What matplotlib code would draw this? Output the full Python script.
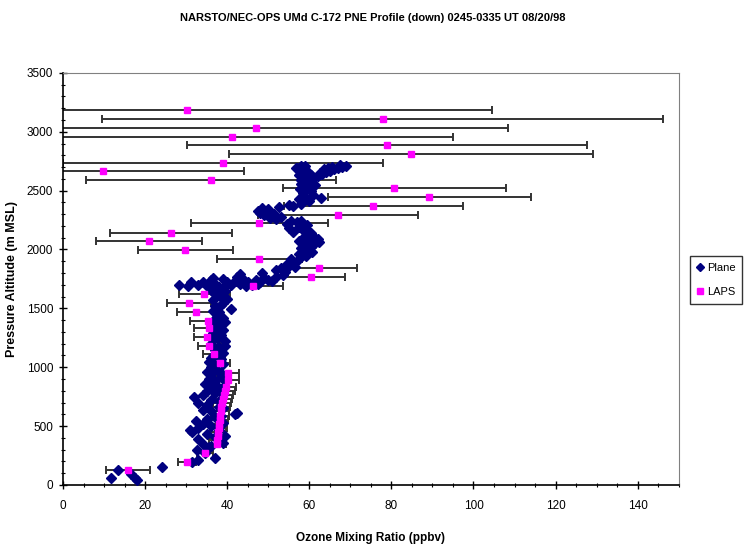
import matplotlib
matplotlib.use("Agg")
import matplotlib.pyplot as plt
from matplotlib import font_manager
from matplotlib.ticker import MultipleLocator

# LAPS profile: altitude (m MSL), ozone (ppbv), error half-width (ppbv)
laps_alt = [3186, 3110, 3036, 2959, 2889, 2812, 2738, 2668, 2591, 2520,
            2444, 2370, 2294, 2223, 2144, 2073, 1997, 1920, 1846, 1770,
            1691, 1623, 1549, 1473, 1396, 1331, 1254, 1181, 1113, 1034,
            954, 892, 835, 800, 765, 730, 695, 660, 625, 590,
            555, 520, 485, 450, 415, 380, 345, 274, 198, 130]
laps_o3 = [30.3, 77.9, 47.0, 41.2, 78.9, 84.8, 39.0, 9.8, 36.0, 80.7,
           89.2, 75.6, 67.0, 47.8, 26.3, 21.0, 29.8, 47.8, 62.3, 60.4,
           46.3, 34.4, 30.7, 32.4, 35.4, 35.6, 35.2, 35.6, 36.8, 38.2,
           40.2, 40.3, 39.7, 39.5, 39.2, 39.0, 38.8, 38.6, 38.4, 38.3,
           38.2, 38.0, 37.9, 37.8, 37.7, 37.6, 37.6, 34.6, 30.1, 15.8]
laps_err = [74.3, 68.3, 61.3, 53.9, 48.7, 44.3, 38.9, 34.3, 30.5, 27.2,
            24.7, 21.8, 19.5, 16.7, 14.8, 12.9, 11.5, 10.4, 9.2, 8.4,
            7.4, 6.2, 5.3, 4.7, 4.4, 3.8, 3.4, 2.8, 2.7, 2.6,
            2.7, 2.5, 2.4, 2.3, 2.3, 2.2, 2.2, 2.2, 2.1, 2.1,
            2.1, 2.0, 2.0, 2.0, 2.0, 2.0, 2.0, 2.0, 2.2, 5.3]

# aircraft profile: ozone (ppbv), altitude (m MSL)
plane_o3 = [
    11.7, 13.5, 16.5, 17.5, 18.0, 24.0, 31.5, 33.0, 32.7, 37.0, 35.5, 34.5,
    36.0, 34.0, 38.0, 33.0, 37.0, 35.0, 31.5, 31.0, 33.0, 36.0, 34.0, 32.5,
    35.0, 37.0, 42.0, 42.5, 36.0, 34.0, 38.0, 35.0, 33.0, 36.0, 32.0, 34.0,
    37.0, 35.0, 38.0, 36.0, 34.5, 37.0, 35.5, 38.5, 36.0, 35.0, 37.5, 36.0,
    39.0, 39.5, 38.0, 39.0, 38.5, 39.0, 38.0, 39.0, 39.0, 39.5, 38.5,
    37.0, 35.5, 38.5, 36.5, 39.0, 37.0, 38.0, 36.0, 39.5, 37.5, 38.5, 36.5,
    39.0, 37.0, 38.5, 36.5, 39.0, 37.5, 38.0, 41.0, 37.0, 39.0, 36.5, 38.5,
    37.0, 39.5, 36.0,
    39.0, 36.0, 38.0, 39.5, 36.5, 38.0, 37.5, 39.5, 38.0, 36.5, 38.5, 40.0, 38.0,
    28.3, 31.2, 30.5, 33.0, 34.0, 35.0, 36.0, 37.0, 38.0, 39.0, 40.0, 41.0,
    42.0, 43.0, 44.0, 45.0, 46.0, 47.0, 48.0, 49.0, 50.0, 51.0, 52.0, 44.5,
    47.5, 39.5, 36.5, 42.5, 53.5, 48.5, 52.0, 54.0, 43.0,
    53.0, 55.0, 54.5, 56.0, 57.0, 55.5, 58.0, 59.3, 57.5, 60.7, 59.0, 56.5,
    58.0, 60.5, 59.0, 61.5, 60.0, 62.0, 58.5, 61.0, 59.5, 62.4, 57.5, 60.5,
    56.0, 58.5, 55.0, 57.5, 59.5, 54.5, 57.0, 58.0, 55.5, 59.0,
    52.0, 50.5, 49.0, 48.0, 47.5, 48.5, 50.0, 51.5, 53.0, 49.5, 52.5,
    56.0, 58.0, 60.0, 57.5, 62.9, 59.0, 61.0, 58.5, 60.5, 57.8, 59.5, 61.5,
    58.0, 60.0, 55.0,
    58.0, 59.5, 57.5, 60.0, 58.5, 57.0, 59.0,
    61.0, 62.0, 63.0, 64.0, 65.0, 66.0, 67.0, 68.0, 69.0, 63.5, 65.5, 62.5,
    60.5, 67.5, 64.5, 56.8, 58.0, 57.5,
]
plane_alt = [
    59, 130, 95, 59, 40, 150, 195, 210, 297, 230, 320, 270,
    330, 350, 370, 390, 410, 430, 450, 467, 480, 500, 520, 540,
    560, 580, 600, 611, 625, 640, 660, 680, 700, 720, 748, 760,
    780, 800, 820, 840, 860, 880, 900, 920, 940, 960, 980, 1000,
    360, 420, 470, 530, 590, 650, 710, 770, 830, 890, 950,
    1020, 1045, 1070, 1095, 1120, 1145, 1170, 1195, 1220, 1245, 1270, 1295,
    1320, 1345, 1370, 1395, 1420, 1445, 1470, 1495, 1520, 1545, 1570, 1595,
    1620, 1645, 1660,
    1030, 1080, 1130, 1180, 1230, 1280, 1330, 1380, 1430, 1480, 1530, 1580, 1630,
    1699, 1725, 1690, 1700, 1720, 1690, 1740, 1710, 1680, 1750, 1720, 1700,
    1735, 1710, 1745, 1720, 1700, 1740, 1725, 1760, 1745, 1730, 1770, 1690,
    1705, 1690, 1760, 1765, 1780, 1801, 1827, 1810, 1795,
    1840, 1860, 1880, 1886, 1900, 1920, 1937, 1945, 1960, 1980, 1995, 1850,
    2010, 2025, 2040, 2055, 2070, 2085, 2100, 2115, 2130, 2060, 2075, 2140,
    2150, 2165, 2180, 2195, 2205, 2215, 2230, 2245, 2240, 2185,
    2255, 2270, 2290, 2310, 2330, 2350, 2340, 2300, 2280, 2320, 2360,
    2370, 2390, 2410, 2425, 2438, 2450, 2465, 2480, 2500, 2515, 2530, 2545,
    2560, 2575, 2380,
    2590, 2610, 2630, 2650, 2670, 2690, 2705,
    2600, 2620, 2640, 2660, 2670, 2685, 2695, 2700, 2710, 2680, 2700, 2650,
    2630, 2715, 2695, 2693, 2710, 2675,
]

x_ticks = [0, 20, 40, 60, 80, 100, 120, 140]
y_ticks = [0, 500, 1000, 1500, 2000, 2500, 3000, 3500]

names = {f.name for f in font_manager.fontManager.ttflist}
narrow = "Liberation Sans Narrow" if "Liberation Sans Narrow" in names else "Liberation Sans"
plt.rcParams["font.family"] = [narrow, "DejaVu Sans"]

fig = plt.figure(figsize=(7.5, 5.48), dpi=100)
ax = fig.add_axes([0.084, 0.115, 0.821, 0.752])

ax.errorbar(laps_o3, laps_alt, xerr=laps_err, fmt="none", ecolor="#333333",
            elinewidth=1.4, capsize=3, capthick=1.4, zorder=2)
ax.plot(plane_o3, plane_alt, "D", color="#000080", ms=5, mec="#000080",
        ls="none", zorder=3, label="Plane")
ax.plot(laps_o3, laps_alt, "s", color="#FF00FF", ms=5, mec="#FF00FF",
        ls="none", zorder=4, label="LAPS")

ax.set_xlim(0, 150)
ax.set_ylim(0, 3500)
ax.set_xticks(x_ticks)
ax.set_yticks(y_ticks)
ax.xaxis.set_minor_locator(MultipleLocator(5))
ax.yaxis.set_minor_locator(MultipleLocator(100))
ax.tick_params(which="major", direction="inout", length=6, width=1, labelsize=8.5, pad=8)
ax.tick_params(which="minor", direction="inout", length=3, width=0.8)
ax.tick_params(axis="y", pad=4)

for side in ("top", "right"):
    ax.spines[side].set_color("#808080")
for side in ("left", "bottom"):
    ax.spines[side].set_color("black")
    ax.spines[side].set_linewidth(1.2)

ax.set_xlabel("Ozone Mixing Ratio (ppbv)", fontsize=8.5, fontweight="bold", labelpad=14)
ax.set_ylabel("Pressure Altitude (m MSL)", fontsize=9, fontweight="bold",
              family=["Liberation Sans", "DejaVu Sans"], labelpad=6)
fig.text(0.497, 0.967, "NARSTO/NEC-OPS UMd C-172 PNE Profile (down) 0245-0335 UT 08/20/98",
         ha="center", va="center", fontsize=8, fontweight="bold")

leg = fig.legend(loc="center", bbox_to_anchor=(0.955, 0.489), fontsize=8,
                 frameon=True, fancybox=False, edgecolor="black", handlelength=0.6,
                 handletextpad=0.3, borderpad=0.6, labelspacing=1.3, markerscale=0.8)
leg.get_frame().set_linewidth(1.0)

fig.savefig("out.png", dpi=100)
